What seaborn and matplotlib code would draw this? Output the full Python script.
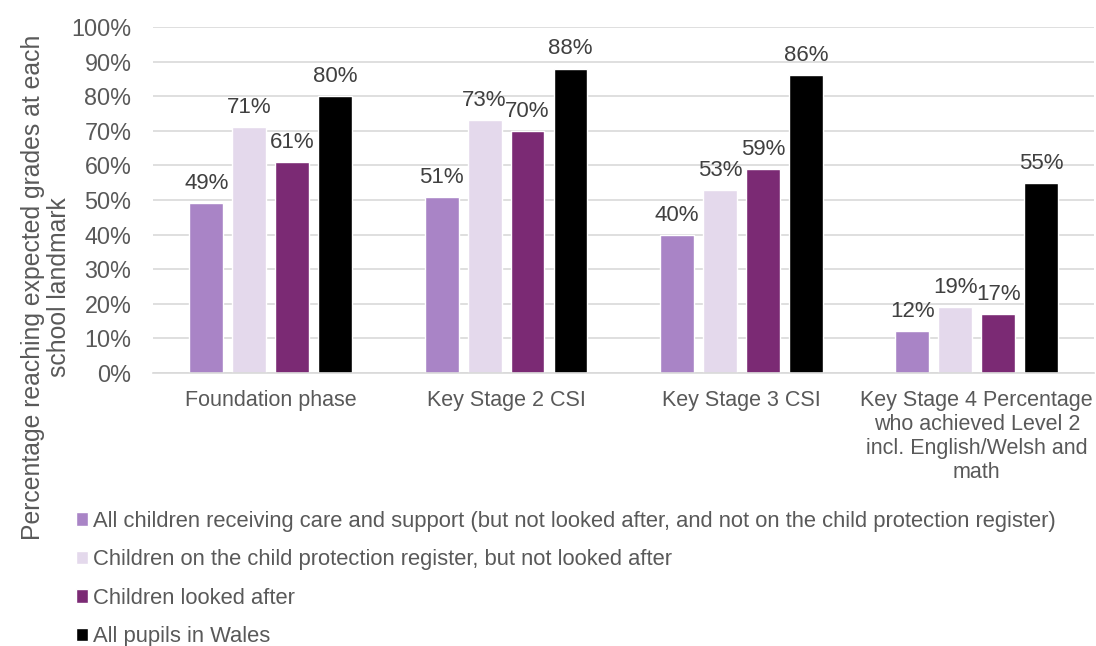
import matplotlib
matplotlib.use("Agg")
import matplotlib.pyplot as plt
import seaborn as sns
import pandas as pd

categories = [
    "Foundation phase",
    "Key Stage 2 CSI",
    "Key Stage 3 CSI",
    "Key Stage 4 Percentage\nwho achieved Level 2\nincl. English/Welsh and\nmath",
]
series = [
    "All children receiving care and support (but not looked after, and not on the child protection register)",
    "Children on the child protection register, but not looked after",
    "Children looked after",
    "All pupils in Wales",
]
care_support = [0.49, 0.51, 0.40, 0.12]
protection_register = [0.71, 0.73, 0.53, 0.19]
looked_after = [0.61, 0.70, 0.59, 0.17]
all_pupils = [0.80, 0.88, 0.86, 0.55]
colors = ["#A984C6", "#E4D9EC", "#7B2A74", "#000000"]

values = [care_support, protection_register, looked_after, all_pupils]
rows = []
for name, vals in zip(series, values):
    for cat, v in zip(categories, vals):
        rows.append({"category": cat, "series": name, "value": v})
df = pd.DataFrame(rows)

sns.set_style("white")
plt.rcParams["font.family"] = ["Liberation Sans", "DejaVu Sans"]

fig = plt.figure(figsize=(10.96, 6.46), dpi=100)
ax = fig.add_axes([0.1396, 0.4226, 0.859, 0.5356])

sns.barplot(
    data=df, x="category", y="value", hue="series",
    order=categories, hue_order=series, palette=colors,
    width=0.73, gap=0.21, saturation=1, ax=ax, legend=True, errorbar=None,
)

text_color = "#595959"
for container in ax.containers:
    ax.bar_label(container, labels=[f"{v * 100:.0f}%" for v in container.datavalues],
                 padding=6.5, fontsize=16, color="#404040")

ax.set_ylim(0, 1.0)
ax.set_xlim(-0.5, 3.5)
ticks = [i / 10 for i in range(11)]
ax.set_yticks(ticks)
ax.set_yticklabels([f"{int(t * 100)}%" for t in ticks], fontsize=16.8, color=text_color)
ax.tick_params(axis="x", labelsize=15.5, colors=text_color, length=0, pad=12)
ax.tick_params(axis="y", length=0, pad=15.5)
for lbl in ax.get_xticklabels():
    lbl.set_color(text_color)
    lbl.set_linespacing(1.2)
ax.yaxis.grid(True, color="#D9D9D9", linewidth=1.2)
ax.set_axisbelow(True)
for side in ["top", "right", "left"]:
    ax.spines[side].set_visible(False)
ax.spines["bottom"].set_color("#D9D9D9")
ax.spines["bottom"].set_linewidth(1.2)

ax.set_xlabel("")
ax.set_ylabel("")
fig.text(46 / 1096, 1 - 287 / 646,
         "Percentage reaching expected grades at each\nschool landmark",
         rotation=90, ha="center", va="center", multialignment="center",
         fontsize=17.8, color=text_color, linespacing=1.12)

handles, labels = ax.get_legend_handles_labels()
ax.get_legend().remove()
fig.legend(handles, labels, loc="upper left", bbox_to_anchor=(0.061, 1 - 502 / 646),
           ncol=1, frameon=False, fontsize=15.8, labelcolor=text_color,
           handlelength=0.56, handleheight=0.56, handletextpad=0.22,
           labelspacing=0.8, borderaxespad=0)

fig.savefig("out.png", dpi=100)
